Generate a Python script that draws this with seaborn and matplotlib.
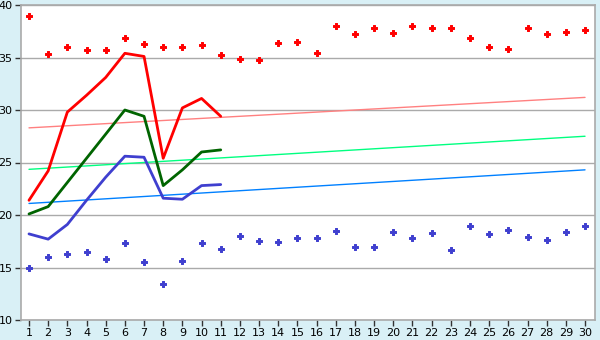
import numpy as np
import pandas as pd
import matplotlib
matplotlib.use("Agg")
import matplotlib.pyplot as plt
import seaborn as sns

days = list(range(1, 31))

max_points = [39.0, 35.3, 36.0, 35.7, 35.7, 36.9, 36.3, 36.0, 36.0, 36.2,
              35.2, 34.9, 34.8, 36.4, 36.5, 35.4, 38.0, 37.2, 37.8, 37.3,
              38.0, 37.8, 37.8, 36.9, 36.0, 35.8, 37.8, 37.2, 37.4, 37.6]
min_points = [15.0, 16.0, 16.3, 16.5, 15.8, 17.3, 15.5, 13.4, 15.6, 17.3,
              16.8, 18.0, 17.5, 17.4, 17.8, 17.8, 18.5, 17.0, 17.0, 18.4,
              17.8, 18.3, 16.7, 19.0, 18.2, 18.6, 17.9, 17.6, 18.4, 19.0]

line_days = list(range(1, 12))
red_line = [21.4, 24.2, 29.8, 31.4, 33.1, 35.4, 35.1, 25.4, 30.2, 31.1, 29.4]
green_line = [20.1, 20.8, 23.1, 25.4, 27.7, 30.0, 29.4, 22.8, 24.3, 26.0, 26.2]
blue_line = [18.2, 17.7, 19.1, 21.4, 23.6, 25.6, 25.5, 21.6, 21.5, 22.8, 22.9]

trend_days = [1, 30]
red_trend = [28.3, 31.2]
green_trend = [24.35, 27.5]
blue_trend = [21.1, 24.3]

yticks = [10, 15, 20, 25, 30, 35, 40]

bg = "#d9f0f6"
grid = "#aaaaaa"

sns.set_style("white")
plt.rcParams['font.family'] = ['DejaVu Sans']

fig = plt.figure(figsize=(6, 3.4), dpi=100, facecolor=bg)
ax = fig.add_axes([21/600, 1-320/340, (595-21)/600, (320-5)/340])
ax.set_facecolor("white")

for y in yticks:
    ax.axhline(y, color=grid, lw=1, zorder=0)

df_t = pd.DataFrame({"day": trend_days, "r": red_trend, "g": green_trend, "b": blue_trend})
sns.lineplot(data=df_t, x="day", y="r", color="#ff8080", lw=1, ax=ax, zorder=2)
sns.lineplot(data=df_t, x="day", y="g", color="#00ff80", lw=1, ax=ax, zorder=2)
sns.lineplot(data=df_t, x="day", y="b", color="#0080ff", lw=1, ax=ax, zorder=2)

df_l = pd.DataFrame({"day": line_days, "r": red_line, "g": green_line, "b": blue_line})
sns.lineplot(data=df_l, x="day", y="r", color="#ff0000", lw=2, ax=ax, zorder=3)
sns.lineplot(data=df_l, x="day", y="g", color="#006400", lw=2, ax=ax, zorder=3)
sns.lineplot(data=df_l, x="day", y="b", color="#3f3fcf", lw=2, ax=ax, zorder=3)

df_p = pd.DataFrame({"day": days, "mx": max_points, "mn": min_points})
sns.scatterplot(data=df_p, x="day", y="mx", color="#ff0000", marker="P", s=18,
                linewidth=0.7, edgecolor="#ff0000", ax=ax, zorder=4)
sns.scatterplot(data=df_p, x="day", y="mn", color="#3f3fcf", marker="P", s=18,
                linewidth=0.7, edgecolor="#3f3fcf", ax=ax, zorder=4)

ax.set_xlim(0.583, 30.52)
ax.set_ylim(10, 40)
ax.set_xticks(days)
ax.set_xticklabels([str(d) for d in days])
ax.set_yticks(yticks)
ax.set_yticklabels([str(y) for y in yticks])
ax.set_xlabel("")
ax.set_ylabel("")
ax.tick_params(axis="both", direction="out", length=4, width=1, color="#333333",
               labelsize=8, labelcolor="#000000", pad=2, bottom=True, left=True)
for s in ax.spines.values():
    s.set_color(grid)
    s.set_linewidth(1.2)

fig.savefig("out.png", dpi=100, facecolor=bg)
